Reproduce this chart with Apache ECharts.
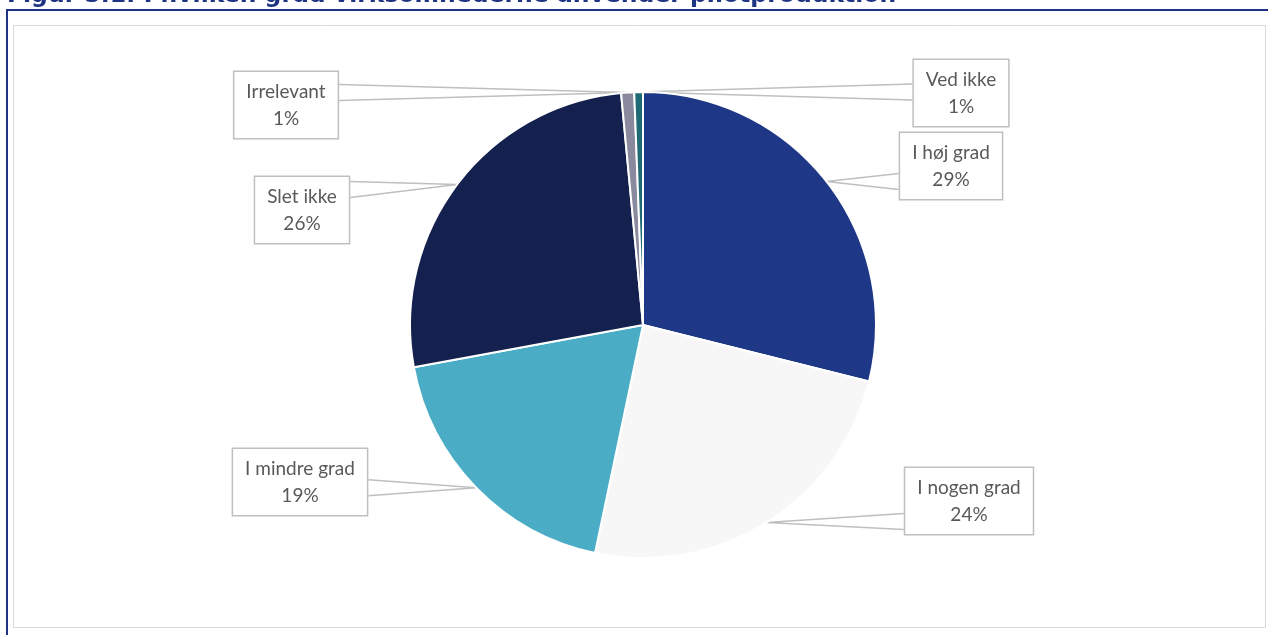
<!DOCTYPE html>
<html>
<head>
<meta charset="utf-8">
<script src="https://cdn.jsdelivr.net/npm/echarts@6/dist/echarts.min.js"></script>
<style>
  html, body { margin: 0; padding: 0; background: #fff; }
  #chart { width: 1268px; height: 635px; }
</style>
</head>
<body>
<div id="chart"></div>
<script>
// data (share of firms, %)
var categories = ['I høj grad', 'I nogen grad', 'I mindre grad', 'Slet ikke', 'Irrelevant', 'Ved ikke'];
var shares = [28.9, 24.4, 18.8, 26.4, 0.9, 0.6];
var sliceColors = ['#1f3787', '#f7f7f7', '#4bacc6', '#14214f', '#8a8a9e', '#1f6b75'];
var titleText = 'Figur 5.1: I hvilken grad virksomhederne anvender pilotproduktion';

// where the callout boxes sit (centre of box)
var labelSpots = {
    'I høj grad': [951, 166],
    'I nogen grad': [969, 501],
    'I mindre grad': [300, 482],
    'Slet ikke': [302, 210],
    'Irrelevant': [286, 105],
    'Ved ikke': [961, 93]
};

var CX = 643, CY = 325, R = 233;

var chart = echarts.init(document.getElementById('chart'));

var pieData = categories.map(function (name, i) {
    return {name: name, value: shares[i], itemStyle: {color: sliceColors[i]}};
});

var total = shares.reduce(function (a, b) { return a + b; }, 0);

// mid angle of slice i, clockwise from 12 o'clock
function midAngle(i) {
    var before = 0;
    for (var k = 0; k < i; k++) before += shares[k];
    return (before + shares[i] / 2) / total * Math.PI * 2;
}

chart.setOption({
    animation: false,
    graphic: [
        // clipped figure title above the frame
        {
            type: 'text', left: 7, top: -16,
            style: {
                text: titleText,
                font: 'bold 23.5px "DejaVu Sans"',
                fill: '#1f3384'
            }
        },
        // dark blue frame (top + left)
        {type: 'rect', shape: {x: 7, y: 10, width: 1270, height: 640}, style: {fill: 'none', stroke: '#1f3384', lineWidth: 2}},
        // light grey chart area
        {type: 'rect', shape: {x: 13.5, y: 25.5, width: 1252, height: 602}, style: {fill: '#fff', stroke: '#d9d9d9', lineWidth: 1}}
    ],
    series: [{
        type: 'pie',
        center: [CX, CY],
        radius: R,
        startAngle: 90,
        clockwise: true,
        avoidLabelOverlap: false,
        itemStyle: {borderColor: '#fff', borderWidth: 2},
        label: {
            show: true,
            formatter: function (p) { return p.name + '\n' + Math.round(p.value) + '%'; },
            fontFamily: 'Lato',
            fontSize: 19,
            lineHeight: 27,
            color: '#595959',
            align: 'center',
            backgroundColor: '#fff',
            borderColor: '#bfbfbf',
            borderWidth: 1.5,
            padding: [6, 12]
        },
        labelLine: {
            show: true,
            lineStyle: {color: '#bfbfbf', width: 1.5}
        },
        labelLayout: function (params) {
            var i = params.dataIndex;
            var spot = labelSpots[categories[i]];
            var w = params.labelRect.width, h = params.labelRect.height;
            var a = midAngle(i);
            var tip = [CX + R * Math.sin(a), CY - R * Math.cos(a)];
            // callout wedge: two lines from the box side to the tip
            var edgeX = tip[0] > spot[0] ? spot[0] + w / 2 : spot[0] - w / 2;
            var top = spot[1] - h / 2, bottom = spot[1] + h / 2;
            var baseY = Math.min(Math.max(tip[1], top + 14), bottom - 14);
            return {
                x: spot[0], y: spot[1], align: 'center', verticalAlign: 'middle',
                labelLinePoints: [[edgeX, baseY - 8], tip, [edgeX, baseY + 8]]
            };
        },
        emphasis: {disabled: true},
        data: pieData
    }]
});
</script>
</body>
</html>
